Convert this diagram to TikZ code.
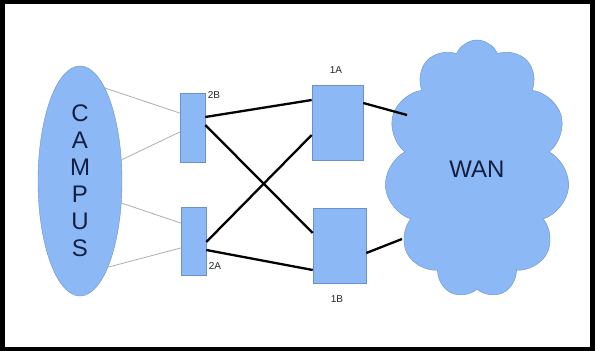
\documentclass[tikz,border=0pt]{standalone}
\usepackage{fontspec}
\setmainfont{Liberation Sans}
\usetikzlibrary{shapes.geometric,shapes.symbols}
\definecolor{netblue}{RGB}{140,185,245}
\definecolor{netedge}{RGB}{105,145,205}
\definecolor{navytext}{RGB}{20,30,65}
\definecolor{linkgray}{RGB}{175,175,175}
\tikzset{
  switchbox/.style={draw=netedge, fill=netblue, line width=0.6pt, inner sep=0pt},
  uplink/.style={line width=2.3pt, black},
  accesslink/.style={line width=0.8pt, linkgray},
  portlabel/.style={font=\fontsize{10}{11}\selectfont, text=black!85},
}
\begin{document}
\begin{tikzpicture}[x=1pt, y=-1pt]
    % Frame
    \useasboundingbox (0,0) rectangle (595,351);
    \fill[black] (0,0) rectangle (595,351);
    \fill[white] (5,4) rectangle (590,347);

    % Campus and WAN
    \node[ellipse, draw=netedge, fill=netblue, minimum width=84pt, minimum height=230pt, inner sep=0pt,
          text=navytext, align=center, font=\fontsize{24}{27}\selectfont] (campus) at (80,181) {C\\A\\M\\P\\U\\S};
    \node[cloud, cloud puffs=11, cloud puff arc=135, cloud ignores aspect, draw=netedge, fill=netblue,
          minimum width=185pt, minimum height=258pt, text=navytext, font=\fontsize{24}{28}\selectfont] (wan) at (477,169) {WAN};
    \coordinate (wanA) at (407,115);
    \coordinate (wanB) at (402,239);

    % Switches
    \node[switchbox, minimum width=25pt, minimum height=69pt] (sw2B) at (192.5,127.5) {};
    \node[switchbox, minimum width=25pt, minimum height=68pt] (sw2A) at (193.5,241) {};
    \node[switchbox, minimum width=51pt, minimum height=75pt] (sw1A) at (337.5,122.5) {};
    \node[switchbox, minimum width=53pt, minimum height=75pt] (sw1B) at (339.5,245.5) {};

    % Labels
    \node[portlabel] (lbl2B) at (214,95) {2B};
    \node[portlabel] (lbl2A) at (215,266) {2A};
    \node[portlabel] (lbl1A) at (336,70) {1A};
    \node[portlabel] (lbl1B) at (337,299) {1B};

    % Access links
    \draw[accesslink] (campus.75) -- ([yshift=14.5pt]sw2B.west);
    \draw[accesslink] (campus.27) -- ([yshift=-4.5pt]sw2B.west);
    \draw[accesslink] (campus.-28) -- ([yshift=18pt]sw2A.west);
    \draw[accesslink] (campus.-72) -- ([yshift=-7pt]sw2A.west);

    % Uplinks
    \draw[uplink] ([yshift=10.5pt]sw2B.east) -- ([yshift=22.5pt]sw1A.west);
    \draw[uplink] ([yshift=2.5pt]sw2B.east) -- ([yshift=12.5pt]sw1B.west);
    \draw[uplink] ([yshift=-1pt]sw2A.east) -- ([yshift=-12.5pt]sw1A.west);
    \draw[uplink] ([yshift=-9pt]sw2A.east) -- ([yshift=-24.5pt]sw1B.west);
    \draw[uplink] ([yshift=19.5pt]sw1A.east) -- (wanA);
    \draw[uplink] ([yshift=-7.5pt]sw1B.east) -- (wanB);
\end{tikzpicture}
\end{document}
